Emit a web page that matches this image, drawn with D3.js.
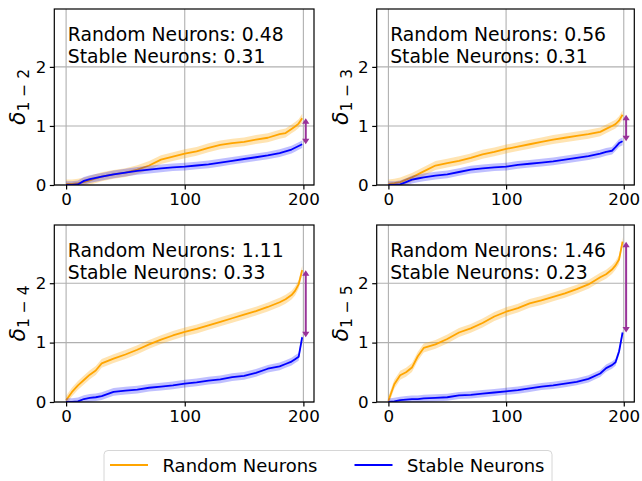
<!DOCTYPE html>
<html>
<head>
<meta charset="utf-8">
<script src="https://cdn.jsdelivr.net/npm/d3@7"></script>
<style>
  html, body { margin: 0; padding: 0; background: #fff; }
  svg { display: block; font-family: "DejaVu Sans", sans-serif; }
</style>
</head>
<body>
<svg id="chart" width="642" height="481"></svg>
<script>
// ---------- data ----------
const xSamples = [0,5,10,15,20,25,30,40,50,60,70,80,90,100,110,120,130,140,150,160,170,180,185,190,193,196,199];

const panelNames = ["1 − 2", "1 − 3", "1 − 4", "1 − 5"];

const random12 = [0.02,0.02,0.03,0.05,0.08,0.11,0.14,0.18,0.21,0.26,0.33,0.43,0.48,0.53,0.57,0.63,0.68,0.71,0.73,0.77,0.80,0.86,0.88,0.95,0.99,1.04,1.13];
const stable12 = [0.00,0.00,0.01,0.07,0.10,0.12,0.14,0.18,0.21,0.24,0.26,0.28,0.30,0.31,0.33,0.35,0.38,0.41,0.44,0.47,0.50,0.54,0.57,0.60,0.63,0.66,0.69];

const random13 = [0.02,0.03,0.05,0.09,0.13,0.18,0.23,0.33,0.37,0.41,0.46,0.52,0.56,0.61,0.65,0.69,0.73,0.77,0.80,0.83,0.86,0.90,0.95,1.00,1.03,1.09,1.19];
const stable13 = [0.00,0.00,0.01,0.05,0.09,0.11,0.13,0.16,0.18,0.22,0.26,0.28,0.30,0.31,0.34,0.36,0.38,0.40,0.43,0.46,0.49,0.53,0.56,0.58,0.64,0.71,0.74];

const random14 = [0.03,0.17,0.28,0.37,0.46,0.53,0.65,0.73,0.80,0.88,0.97,1.05,1.12,1.18,1.23,1.29,1.35,1.41,1.47,1.53,1.60,1.68,1.73,1.80,1.87,1.98,2.22];
const stable14 = [0.00,0.00,0.01,0.05,0.07,0.08,0.10,0.17,0.19,0.21,0.24,0.26,0.28,0.31,0.33,0.36,0.38,0.42,0.44,0.49,0.56,0.60,0.64,0.68,0.72,0.76,1.09];

const random15 = [0.02,0.30,0.45,0.50,0.58,0.77,0.91,0.97,1.06,1.17,1.24,1.33,1.44,1.52,1.58,1.66,1.71,1.77,1.83,1.90,1.98,2.10,2.15,2.23,2.30,2.40,2.70];
const stable15 = [0.00,0.01,0.03,0.04,0.05,0.05,0.06,0.07,0.08,0.11,0.12,0.14,0.16,0.18,0.20,0.23,0.26,0.28,0.31,0.34,0.39,0.48,0.57,0.62,0.67,0.85,1.17];

const randomSeries = [random12, random13, random14, random15];
const stableSeries = [stable12, stable13, stable14, stable15];

// band half-widths
const randomBand = [0.075, 0.075, 0.075, 0.075];
const stableBand = [0.065, 0.065, 0.065, 0.06];

const randomMeans = ["0.48", "0.56", "1.11", "1.46"];
const stableMeans = ["0.31", "0.31", "0.33", "0.23"];

const xTicks = [0, 100, 200];
const yTicks = [0, 1, 2];
const arrowX = 202;

const legendLabels = ["Random Neurons", "Stable Neurons"];

// ---------- layout ----------
const colors = { random: "#ffa500", stable: "#0000ff", arrow: "#993399" };
const panels = [
  { left: 54.3, right: 314, top: 9, bottom: 185 },
  { left: 376.7, right: 634.3, top: 9, bottom: 185 },
  { left: 54.3, right: 314, top: 225, bottom: 402 },
  { left: 376.7, right: 634.3, top: 225, bottom: 402 }
];

const svg = d3.select("#chart");
const defs = svg.append("defs");

panels.forEach((p, i) => {
  const x = d3.scaleLinear().domain([-9.95, 208.95]).range([p.left, p.right]);
  const y = d3.scaleLinear().domain([0, 2.98]).range([p.bottom, p.top]);
  const g = svg.append("g");

  defs.append("clipPath").attr("id", "clip" + i)
    .append("rect").attr("x", p.left).attr("y", p.top)
    .attr("width", p.right - p.left).attr("height", p.bottom - p.top);

  // grid
  g.append("g").selectAll("line").data(xTicks).join("line")
    .attr("x1", d => x(d)).attr("x2", d => x(d))
    .attr("y1", p.top).attr("y2", p.bottom)
    .attr("stroke", "#b0b0b0").attr("stroke-width", 1.1);
  g.append("g").selectAll("line").data(yTicks).join("line")
    .attr("y1", d => y(d)).attr("y2", d => y(d))
    .attr("x1", p.left).attr("x2", p.right)
    .attr("stroke", "#b0b0b0").attr("stroke-width", 1.1);

  const plot = g.append("g").attr("clip-path", `url(#clip${i})`);

  const drawSeries = (vals, hw, color, bandOpacity) => {
    const pts = xSamples.map((xv, k) => ({ x: xv, v: vals[k] }));
    const area = d3.area().x(d => x(d.x)).y0(d => y(d.v - hw)).y1(d => y(d.v + hw));
    const line = d3.line().x(d => x(d.x)).y(d => y(d.v));
    plot.append("path").datum(pts).attr("d", area)
      .attr("fill", color).attr("fill-opacity", bandOpacity).attr("stroke", "none");
    plot.append("path").datum(pts).attr("d", line)
      .attr("fill", "none").attr("stroke", color).attr("stroke-width", 1.8)
      .attr("stroke-linejoin", "round");
  };
  drawSeries(randomSeries[i], randomBand[i], colors.random, 0.3);
  drawSeries(stableSeries[i], stableBand[i], colors.stable, 0.25);

  // arrow
  const r = randomSeries[i], s = stableSeries[i];
  const yTop = y(r[r.length - 1]), yBot = y(s[s.length - 1]);
  const ax = x(arrowX);
  const hl = 5.5, hw2 = 3.6;
  g.append("line").attr("x1", ax).attr("x2", ax)
    .attr("y1", yTop + hl - 1).attr("y2", yBot - hl + 1)
    .attr("stroke", colors.arrow).attr("stroke-width", 2);
  g.append("path")
    .attr("d", `M${ax},${yTop} L${ax - hw2},${yTop + hl} L${ax + hw2},${yTop + hl} Z`)
    .attr("fill", colors.arrow);
  g.append("path")
    .attr("d", `M${ax},${yBot} L${ax - hw2},${yBot - hl} L${ax + hw2},${yBot - hl} Z`)
    .attr("fill", colors.arrow);

  // spines
  g.append("rect").attr("x", p.left).attr("y", p.top)
    .attr("width", p.right - p.left).attr("height", p.bottom - p.top)
    .attr("fill", "none").attr("stroke", "#000").attr("stroke-width", 1.2);

  // axes ticks
  const xAxis = d3.axisBottom(x).tickValues(xTicks).tickFormat(d3.format("d")).tickSize(4.5).tickPadding(4);
  const yAxis = d3.axisLeft(y).tickValues(yTicks).tickFormat(d3.format("d")).tickSize(4.5).tickPadding(3.5);
  const gx = g.append("g").attr("transform", `translate(0,${p.bottom})`).call(xAxis);
  const gy = g.append("g").attr("transform", `translate(${p.left},0)`).call(yAxis);
  [gx, gy].forEach(ax2 => {
    ax2.select(".domain").remove();
    ax2.selectAll(".tick line").attr("stroke", "#000").attr("stroke-width", 1.2);
    ax2.selectAll(".tick text").attr("fill", "#000")
      .style("font-family", "DejaVu Sans").style("font-size", "16.7px");
  });

  // annotation
  const ann = g.append("text").attr("x", p.left + 13.5).attr("y", p.top + 31.5)
    .style("font-size", "18.8px").attr("fill", "#000");
  ann.append("tspan").attr("x", p.left + 13.5).text(`Random Neurons: ${randomMeans[i]}`);
  ann.append("tspan").attr("x", p.left + 13.5).attr("dy", 22).text(`Stable Neurons: ${stableMeans[i]}`);

  // y label
  const cy = (p.top + p.bottom) / 2;
  const lab = g.append("text")
    .attr("transform", `translate(${p.left - 29},${cy}) rotate(-90)`)
    .attr("text-anchor", "middle").attr("fill", "#000");
  lab.append("tspan").style("font-style", "italic").style("font-size", "22px").text("δ");
  lab.append("tspan").style("font-size", "15.5px").attr("dy", 4).text(panelNames[i]);
});

// legend
const leg = svg.append("g");
leg.append("rect").attr("x", 104).attr("y", 450.5).attr("width", 448).attr("height", 44)
  .attr("rx", 4).attr("fill", "#fff").attr("fill-opacity", 0.8)
  .attr("stroke", "#d6d6d6").attr("stroke-width", 1);
const legItems = [
  { label: legendLabels[0], color: colors.random, x: 110 },
  { label: legendLabels[1], color: colors.stable, x: 354.5 }
];
legItems.forEach(it => {
  leg.append("line").attr("x1", it.x).attr("x2", it.x + 38).attr("y1", 465).attr("y2", 465)
    .attr("stroke", it.color).attr("stroke-width", 2);
  leg.append("text").attr("x", it.x + 52.5).attr("y", 471.5)
    .style("font-size", "18px").attr("fill", "#000").text(it.label);
});
</script>
</body>
</html>
